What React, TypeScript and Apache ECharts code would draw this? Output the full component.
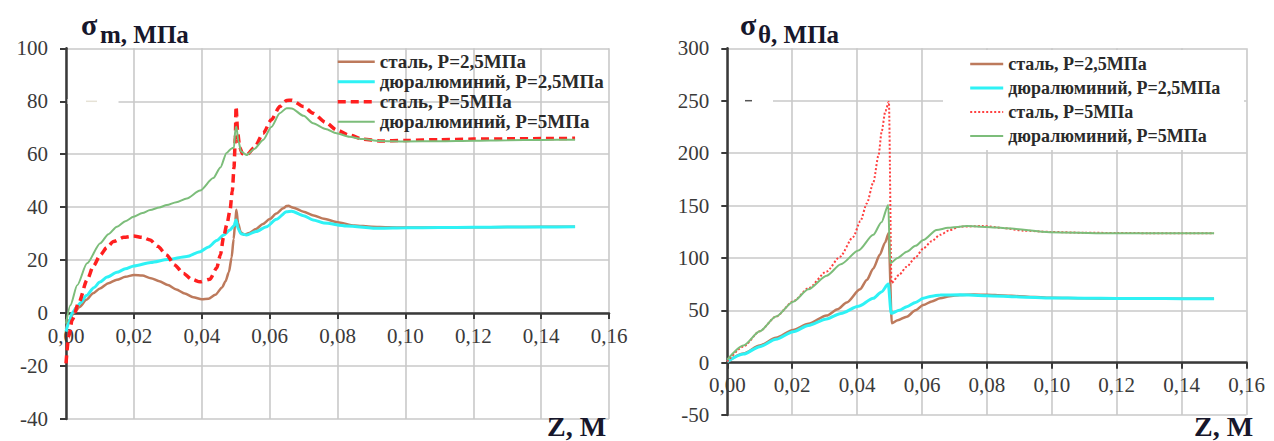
import React, { useEffect, useRef } from "react";
import * as echarts from "echarts";

const FONT = "Liberation Serif";

const seriesNames = [
  "сталь, P=2,5МПа",
  "дюралюминий, P=2,5МПа",
  "сталь, P=5МПа",
  "дюралюминий, P=5МПа",
];

const xTickLabels = ["0,00", "0,02", "0,04", "0,06", "0,08", "0,10", "0,12", "0,14", "0,16"];
const leftYTickLabels = ["-40", "-20", "0", "20", "40", "60", "80", "100"];
const rightYTickLabels = ["-50", "0", "50", "100", "150", "200", "250", "300"];

// ---- left chart: sigma_m ----
const zSteelLowM = [0, 0.001, 0.0023, 0.004, 0.006, 0.008, 0.010, 0.0125, 0.015, 0.0175, 0.020, 0.0225, 0.025, 0.0275, 0.030, 0.0325, 0.035, 0.0375, 0.040, 0.042, 0.044, 0.046, 0.047, 0.048, 0.0488, 0.0494, 0.0499, 0.0502, 0.0507, 0.0515, 0.0525, 0.054, 0.056, 0.058, 0.060, 0.062, 0.064, 0.065, 0.0655, 0.067, 0.070, 0.073, 0.076, 0.080, 0.085, 0.090, 0.095, 0.100, 0.110, 0.120, 0.130, 0.140, 0.150];
const vSteelLowM = [-6, -2.5, 0, 2.3, 5, 7.5, 9.3, 11.3, 12.6, 13.7, 14.4, 14.2, 13.2, 12, 10.6, 8.9, 7.4, 6.0, 5.2, 5.4, 6.9, 9.7, 12, 15.5, 21, 28, 35, 39, 34, 30.5, 29.6, 30.2, 31.8, 33.6, 35.5, 37.6, 39.6, 40.4, 40.5, 39.8, 38.3, 36.9, 35.6, 34.3, 33.1, 32.6, 32.4, 32.3, 32.3, 32.4, 32.5, 32.6, 32.6];

const zDurLowM = [0, 0.001, 0.0018, 0.003, 0.0043, 0.006, 0.0082, 0.010, 0.0121, 0.015, 0.0175, 0.020, 0.025, 0.030, 0.0356, 0.0395, 0.042, 0.0444, 0.0465, 0.0483, 0.0495, 0.0501, 0.0507, 0.0515, 0.0532, 0.056, 0.0591, 0.062, 0.065, 0.0665, 0.070, 0.0728, 0.076, 0.0826, 0.0924, 0.100, 0.110, 0.120, 0.130, 0.140, 0.150];
const vDurLowM = [-7, -3, 0, 2, 3.9, 6.6, 9.6, 11.7, 13.6, 15.4, 16.7, 17.8, 19.1, 20.2, 21.4, 23.2, 25, 27.4, 29.5, 31.4, 33, 35.2, 32, 30, 29.5, 30.8, 32.6, 35.4, 38.3, 38.5, 36.8, 35.2, 34, 32.9, 32.0, 32.2, 32.3, 32.4, 32.5, 32.5, 32.6];

const zSteelHighM = [0, 0.0008, 0.0018, 0.0038, 0.0062, 0.0081, 0.0101, 0.012, 0.014, 0.017, 0.0199, 0.0225, 0.0248, 0.027, 0.0297, 0.032, 0.0346, 0.037, 0.0395, 0.0424, 0.0444, 0.0455, 0.0464, 0.0474, 0.0483, 0.0490, 0.0495, 0.0499, 0.0501, 0.0506, 0.0512, 0.0520, 0.0532, 0.0555, 0.0581, 0.0605, 0.063, 0.065, 0.0665, 0.070, 0.0728, 0.0765, 0.0797, 0.0835, 0.0875, 0.0924, 0.100, 0.110, 0.120, 0.130, 0.140, 0.150];
const vSteelHighM = [-19, -9, -2.6, 4, 12.5, 17.8, 21.9, 24.7, 27, 28.6, 29.1, 28.6, 27.6, 25.2, 21.9, 18.2, 15, 12.8, 11.8, 12.8, 17, 22, 28.5, 33.5, 38.5, 46, 55, 66, 78, 68, 62.5, 60.2, 59.7, 62.5, 67.9, 73, 78, 80.3, 80.4, 78, 75.5, 72, 69.2, 67.2, 65.7, 65.0, 65.2, 65.5, 65.7, 65.8, 65.9, 66];

const zDurHighM = [0, 0.0013, 0.0033, 0.0062, 0.0101, 0.0125, 0.015, 0.0175, 0.0199, 0.0225, 0.0248, 0.0275, 0.0297, 0.0325, 0.0356, 0.0395, 0.0434, 0.0455, 0.0473, 0.0488, 0.0495, 0.0499, 0.0502, 0.0508, 0.0516, 0.0532, 0.0555, 0.0581, 0.0605, 0.063, 0.065, 0.0665, 0.070, 0.0728, 0.0765, 0.0797, 0.0835, 0.0875, 0.0924, 0.100, 0.110, 0.120, 0.130, 0.140, 0.150];
const vDurHighM = [-4, 3, 10.5, 18.8, 26.4, 29.8, 32.6, 34.7, 36.4, 37.8, 38.9, 39.9, 40.8, 41.9, 43.3, 46.3, 51, 55, 60.5, 62.2, 62.5, 69.5, 70.4, 65, 61, 59.7, 62, 65.4, 70.3, 75.5, 77.4, 77.3, 74.5, 71.7, 69.5, 67.9, 66.6, 65.7, 65.0, 64.8, 64.9, 65.1, 65.3, 65.4, 65.5];

// ---- right chart: sigma_theta ----
const zSteelLowT = [0, 0.005, 0.010, 0.015, 0.0203, 0.025, 0.0306, 0.034, 0.0368, 0.0409, 0.043, 0.045, 0.047, 0.0486, 0.0497, 0.0507, 0.0525, 0.0553, 0.058, 0.0604, 0.063, 0.0656, 0.0685, 0.0717, 0.076, 0.080, 0.085, 0.090, 0.095, 0.100, 0.110, 0.120, 0.130, 0.140, 0.150];
const vSteelLowT = [1, 8.8, 16.3, 23.7, 31.2, 37.2, 45, 51, 57.5, 70, 79, 90, 103, 114.5, 123.5, 37.6, 40.5, 43.9, 50, 55, 58.5, 61.5, 63.5, 64.6, 65, 64.8, 64.2, 63.5, 62.6, 62, 61.5, 61.2, 61.1, 61, 61];

const zDurLowT = [0, 0.005, 0.010, 0.015, 0.0203, 0.025, 0.0306, 0.035, 0.0404, 0.045, 0.0475, 0.0496, 0.0505, 0.053, 0.0553, 0.058, 0.0604, 0.063, 0.0656, 0.0717, 0.080, 0.090, 0.100, 0.110, 0.120, 0.130, 0.140, 0.150];
const vDurLowT = [1, 8.2, 15.3, 22.3, 29.6, 35.5, 41.8, 47, 53.8, 61.5, 67.5, 75, 47.1, 50, 53.4, 57.5, 61.5, 63.5, 64.6, 64.8, 64, 62.8, 61.8, 61.5, 61.3, 61.2, 61.1, 61];

const zSteelHighT = [0, 0.005, 0.010, 0.015, 0.0203, 0.025, 0.0306, 0.0347, 0.0388, 0.041, 0.043, 0.045, 0.0466, 0.0476, 0.0487, 0.0498, 0.0506, 0.053, 0.0553, 0.058, 0.0604, 0.063, 0.0656, 0.0685, 0.0717, 0.0789, 0.085, 0.0912, 0.0994, 0.110, 0.120, 0.130, 0.140, 0.150];
const vSteelHighT = [1, 15.5, 30, 44, 58.5, 71, 87, 101, 120, 135, 152, 172, 198, 221, 240, 249, 76, 84, 91.6, 100.5, 109, 116, 122, 126.5, 129.8, 130.4, 128.5, 126, 124.8, 124, 123.8, 123.6, 123.5, 123.5];

const zDurHighT = [0, 0.005, 0.010, 0.015, 0.0203, 0.025, 0.0306, 0.035, 0.0404, 0.045, 0.0475, 0.0496, 0.0502, 0.0525, 0.0553, 0.058, 0.0604, 0.0645, 0.068, 0.0717, 0.0738, 0.080, 0.0861, 0.0994, 0.1169, 0.130, 0.140, 0.150];
const vDurHighT = [3, 16.5, 30, 44, 58.2, 70, 83, 94, 107, 122, 134, 150.5, 94.8, 100, 105.9, 111.5, 117, 126.6, 128.7, 129.8, 130.4, 129.6, 128.2, 124.5, 123.5, 123.5, 123.5, 123.5];

const COLORS = {
  steelLow: "#bd7a5c",
  durLow: "#2ef2f5",
  steelHigh: "#ff1f1f",
  steelHighT: "#ff4040",
  durHigh: "#7cbd7a",
};

const zip = (zs: number[], vs: number[]) => zs.map((z, i) => [z, vs[i]]);

export default function App() {
  const ref = useRef<HTMLDivElement>(null);
  useEffect(() => {
    document.body.style.margin = "0";
    if (!ref.current) return;
    const chart = echarts.init(ref.current, undefined, { renderer: "svg" });

    const mkX = (gridIndex: number, offset: number) => ({
      type: "value",
      gridIndex,
      min: 0,
      max: 0.16,
      interval: 0.02,
      position: "bottom",
      offset,
      axisLine: { show: true, onZero: false, lineStyle: { color: "#3a3a3a", width: 2.5 } },
      axisTick: { show: true, length: 6, lineStyle: { color: "#3a3a3a", width: 2 } },
      axisLabel: {
        margin: 12,
        color: "#3a3a3a",
        fontFamily: FONT,
        fontSize: 21,
        formatter: (v: number) => xTickLabels[Math.round(v / 0.02)],
      },
      splitLine: { show: true, lineStyle: { color: "#c9c9c9", width: 1.6 } },
    });
    const mkY = (gridIndex: number, min: number, max: number, interval: number, labels: string[]) => ({
      type: "value",
      gridIndex,
      min,
      max,
      interval,
      axisLine: { show: true, onZero: false, lineStyle: { color: "#3a3a3a", width: 2.5 } },
      axisTick: { show: true, length: 6, lineStyle: { color: "#3a3a3a", width: 2 } },
      axisLabel: {
        margin: 18,
        color: "#3a3a3a",
        fontFamily: FONT,
        fontSize: 21,
        formatter: (v: number) => labels[Math.round((v - min) / interval)],
      },
      splitLine: { show: true, lineStyle: { color: "#c9c9c9", width: 1.6 } },
    });

    const line = (
      name: string,
      data: number[][],
      color: string,
      width: number,
      type: any,
      idx: number
    ) => ({
      type: "line",
      name,
      xAxisIndex: idx,
      yAxisIndex: idx,
      data,
      symbol: "none",
      smooth: 0.25,
      smoothMonotone: "x",
      lineStyle: { color, width, type },
      itemStyle: { color },
      z: 2,
    });

    const legendText = (size: number, lh: number) => ({
      fontFamily: FONT,
      fontWeight: "bold",
      fontSize: size,
      color: "#2a2a2a",
      lineHeight: lh,
    });
    const hidden = { color: "rgba(0,0,0,0)", borderColor: "rgba(0,0,0,0)", borderWidth: 0, opacity: 0 };
    const legendItems = (redColor: string, redWidth: number, redType: any) => [
      { name: seriesNames[0], itemStyle: hidden, lineStyle: { color: COLORS.steelLow, width: 2.5, type: "solid" } },
      { name: seriesNames[1], itemStyle: hidden, lineStyle: { color: COLORS.durLow, width: 3, type: "solid" } },
      { name: seriesNames[2], itemStyle: hidden, lineStyle: { color: redColor, width: redWidth, type: redType } },
      { name: seriesNames[3], itemStyle: hidden, lineStyle: { color: COLORS.durHigh, width: 2, type: "solid" } },
    ];

    const titleFill = "#17172b";
    const leftZeroOffset = -(40 / 140) * 370.7;
    const rightZeroOffset = -(50 / 350) * 366.8;

    chart.setOption({
      animation: false,
      backgroundColor: "#ffffff",
      grid: [
        { left: 66, top: 48.3, width: 543, height: 370.7, containLabel: false },
        { left: 727.3, top: 48.3, width: 519.2, height: 366.8, containLabel: false },
      ],
      xAxis: [mkX(0, leftZeroOffset), mkX(1, rightZeroOffset)],
      yAxis: [
        mkY(0, -40, 100, 20, leftYTickLabels),
        mkY(1, -50, 300, 50, rightYTickLabels),
      ],
      legend: [
        {
          orient: "vertical",
          left: 336,
          top: 51.7,
          padding: 0,
          itemGap: 0,
          itemWidth: 37,
          itemHeight: 14,
          z: 10,
          selectedMode: false,
          textStyle: legendText(19, 20),
          data: legendItems(COLORS.steelHigh, 3.5, [8, 5]),
        },
        {
          orient: "vertical",
          left: 968.7,
          top: 52,
          padding: 0,
          itemGap: 0,
          itemWidth: 33,
          itemHeight: 14,
          z: 10,
          selectedMode: false,
          textStyle: legendText(18, 24),
          data: legendItems(COLORS.steelHighT, 2, [2, 2]),
        },
      ],
      graphic: [
        // erased patches of gridlines as in the source picture
        { type: "rect", z: 5, shape: { x: 67.5, y: 99, width: 51, height: 5 }, style: { fill: "#ffffff" } },
        { type: "line", z: 6, shape: { x1: 86, y1: 101.3, x2: 97, y2: 101.3 }, style: { stroke: "#e6e2d6", lineWidth: 1.5 } },
        { type: "rect", z: 5, shape: { x: 729, y: 98, width: 44, height: 5 }, style: { fill: "#ffffff" } },
        { type: "line", z: 6, shape: { x1: 745, y1: 100.7, x2: 752, y2: 100.7 }, style: { stroke: "#555555", lineWidth: 1.5 } },
        // white box behind right legend
        { type: "rect", z: 5, shape: { x: 943, y: 50, width: 301, height: 100 }, style: { fill: "#ffffff" } },
        // titles
        { type: "text", z: 6, x: 81, y: 24.9, style: { text: "σ", fill: titleFill, fontFamily: FONT, fontWeight: "bold", fontSize: 30, textVerticalAlign: "middle" } },
        { type: "text", z: 6, x: 100, y: 34.5, style: { text: "m, МПа", fill: titleFill, fontFamily: FONT, fontWeight: "bold", fontSize: 25, textVerticalAlign: "middle" } },
        { type: "text", z: 6, x: 740, y: 24.9, style: { text: "σ", fill: titleFill, fontFamily: FONT, fontWeight: "bold", fontSize: 30, textVerticalAlign: "middle" } },
        { type: "text", z: 6, x: 758, y: 34.5, style: { text: "θ, МПа", fill: titleFill, fontFamily: FONT, fontWeight: "bold", fontSize: 25, textVerticalAlign: "middle" } },
        { type: "text", z: 6, x: 547, y: 426.5, style: { text: "Z, М", fill: titleFill, fontFamily: FONT, fontWeight: "bold", fontSize: 28, textVerticalAlign: "middle" } },
        { type: "text", z: 6, x: 1194, y: 426.5, style: { text: "Z, М", fill: titleFill, fontFamily: FONT, fontWeight: "bold", fontSize: 28, textVerticalAlign: "middle" } },
      ],
      series: [
        line(seriesNames[0], zip(zSteelLowM, vSteelLowM), COLORS.steelLow, 2.5, "solid", 0),
        line(seriesNames[1], zip(zDurLowM, vDurLowM), COLORS.durLow, 3, "solid", 0),
        line(seriesNames[2], zip(zSteelHighM, vSteelHighM), COLORS.steelHigh, 3.5, [8, 5], 0),
        line(seriesNames[3], zip(zDurHighM, vDurHighM), COLORS.durHigh, 2, "solid", 0),
        line(seriesNames[0], zip(zSteelLowT, vSteelLowT), COLORS.steelLow, 2.5, "solid", 1),
        line(seriesNames[1], zip(zDurLowT, vDurLowT), COLORS.durLow, 3, "solid", 1),
        line(seriesNames[2], zip(zSteelHighT, vSteelHighT), COLORS.steelHighT, 2, [2, 2], 1),
        line(seriesNames[3], zip(zDurHighT, vDurHighT), COLORS.durHigh, 2, "solid", 1),
      ],
    });
    return () => chart.dispose();
  }, []);
  return <div ref={ref} style={{ width: 1274, height: 441 }} />;
}
